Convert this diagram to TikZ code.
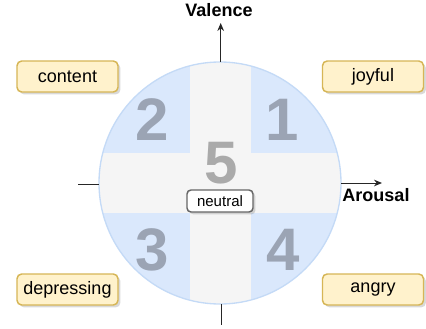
\documentclass[tikz,border=0pt]{standalone}
\usepackage{fontspec}
\setmainfont{Liberation Sans}
\usetikzlibrary{shadows,arrows.meta}
\definecolor{qblue}{RGB}{218,232,252}
\definecolor{qstroke}{RGB}{196,218,246}
\definecolor{bandgray}{RGB}{245,245,245}
\definecolor{lblfill}{RGB}{255,242,204}
\definecolor{lblstroke}{RGB}{214,182,86}
\definecolor{digblue}{RGB}{155,164,180}
\definecolor{diggray}{RGB}{170,170,170}
\tikzset{
  emolabel/.style={draw=lblstroke, fill=lblfill, line width=1.1pt, rounded corners=3.5pt,
    minimum width=75.75pt, minimum height=23.25pt, inner sep=0pt,
    font=\fontsize{13.5pt}{16pt}\selectfont,
    drop shadow={shadow xshift=1.8pt, shadow yshift=-1.8pt, opacity=0.3, fill=gray}},
  digit/.style={inner sep=0pt, font=\fontsize{45pt}{50pt}\selectfont\bfseries},
  axislabel/.style={inner sep=0pt, font=\fontsize{13.5pt}{16pt}\selectfont\bfseries},
  axisline/.style={draw=black!85, line width=0.75pt},
}
\begin{document}
\begin{tikzpicture}[x=0.75pt,y=-0.75pt]
\useasboundingbox (0,0) rectangle (426,329);
% circle
\coordinate (c) at (220,183);
\fill[qblue] (c) circle (121);
\begin{scope}
  \clip (c) circle (121);
  \fill[bandgray] (190,50) rectangle (251,320);
  \fill[bandgray] (90,153) rectangle (350,213);
\end{scope}
\draw[qstroke, line width=1pt] (c) circle (121);
% axes
\coordinate (vtop) at (220.7,23);
\coordinate (vcirc) at (220.7,62);
\coordinate (vcircb) at (221,304);
\coordinate (vbot) at (221,325);
\coordinate (hleft) at (78,184);
\coordinate (hcircl) at (99,184);
\coordinate (hcircr) at (341,183);
\coordinate (hright) at (382,183);
\draw[axisline, -{Stealth[length=6pt,width=5pt]}] (vcirc) -- (vtop);
\draw[axisline] (vcircb) -- (vbot);
\draw[axisline] (hleft) -- (hcircl);
\draw[axisline, -{Stealth[length=6pt,width=5pt]}] (hcircr) -- (hright);
\node[axislabel] (valence) at (219,10) {Valence};
\node[axislabel] (arousal) at (376,195.5) {Arousal};
% digits
\node[digit, text=digblue] (d2) at (152,120) {2};
\node[digit, text=digblue] (d1) at (282,120) {1};
\node[digit, text=digblue] (d3) at (152,250) {3};
\node[digit, text=digblue] (d4) at (283,250) {4};
\node[digit, text=diggray] (d5) at (221,163) {5};
% neutral
\node[draw=black!60, fill=white, line width=1.1pt, rounded corners=3pt,
  minimum width=49.5pt, minimum height=16.5pt, inner sep=0pt,
  font=\fontsize{11.25pt}{13pt}\selectfont,
  drop shadow={shadow xshift=1.8pt, shadow yshift=-1.8pt, opacity=0.3, fill=gray}] (neutral) at (220,201) {neutral};
% labels
\node[emolabel] (content) at (67.5,76.5) {content};
\node[emolabel] (joyful) at (373,76.5) {joyful};
\node[emolabel] (depressing) at (67.5,289.5) {depressing};
\node[emolabel] (angry) at (373,289.5) {angry};
\end{tikzpicture}
\end{document}
